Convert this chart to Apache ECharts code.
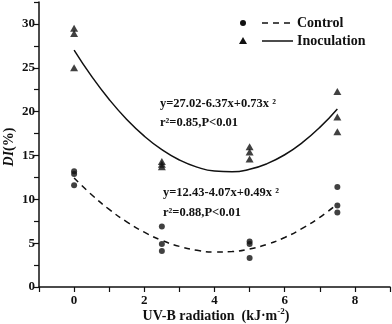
<!DOCTYPE html>
<html><head><meta charset="utf-8">
<script src="https://cdn.jsdelivr.net/npm/echarts@6/dist/echarts.min.js"></script>
<style>html,body{margin:0;padding:0;background:#fff}#c{width:392px;height:324px}</style>
</head><body><div id="c"></div>
<script>
// Observed points (x = UV-B radiation, y = DI %)
const controlX = [0, 0, 0, 2.5, 2.5, 2.5, 5, 5, 5, 7.5, 7.5, 7.5];
const controlY = [13.2, 12.9, 11.6, 6.9, 4.9, 4.1, 5.2, 4.9, 3.3, 11.4, 9.3, 8.5];
const inocX = [0, 0, 0, 2.5, 2.5, 2.5, 5, 5, 5, 7.5, 7.5, 7.5];
const inocY = [29.5, 28.9, 25.0, 14.3, 14.0, 13.7, 16.0, 15.4, 14.6, 22.3, 19.4, 17.7];
// Fitted curves
const fitX = [0, 0.5, 1, 1.5, 2, 2.5, 3, 3.5, 4, 4.5, 5, 5.5, 6, 6.5, 7, 7.5];
const controlFit = [12.43, 10.52, 8.85, 7.43, 6.25, 5.32, 4.63, 4.19, 3.99, 4.04, 4.33, 4.87, 5.65, 6.68, 7.95, 9.47];
const inocFit = [27.02, 24.02, 21.38, 19.11, 17.20, 15.66, 14.48, 13.67, 13.22, 13.14, 13.42, 14.07, 15.08, 16.46, 18.20, 20.31];
const xLabels = [0, 2, 4, 6, 8];
const yLabels = [0, 5, 10, 15, 20, 25, 30];
const legendNames = ['Control', 'Inoculation'];
const eqInoc = ['y=27.02-6.37x+0.73x ²', 'r²=0.85,P<0.01'];
const eqCtrl = ['y=12.43-4.07x+0.49x ²', 'r²=0.88,P<0.01'];
const xName = 'UV-B radiation  (kJ·m{s|-2})';
const yName = '{i|DI}(%)';

const FONT = '"Liberation Serif","Times New Roman",serif';
const INK = '#111';
const zip = (a, b) => a.map((v, i) => [v, b[i]]);

const chart = echarts.init(document.getElementById('c'), null, {renderer: 'canvas'});
const txt = (text, x, y, size) => ({
  type: 'text', x: x, y: y,
  style: {text: text, fill: INK, font: 'bold ' + size + 'px ' + FONT, textVerticalAlign: 'middle'}
});
chart.setOption({
  animation: false,
  backgroundColor: '#fff',
  grid: {left: 39, right: 2, top: 2, bottom: 37, containLabel: false, outerBoundsMode: 'none'},
  xAxis: {
    type: 'value', min: -1, max: 9, interval: 1,
    axisLine: {show: true, onZero: false, lineStyle: {color: INK, width: 1.5}},
    axisTick: {show: true, inside: false, length: 5, lineStyle: {color: INK, width: 1.2}},
    axisLabel: {color: INK, fontFamily: FONT, fontWeight: 'bold', fontSize: 13, margin: 7,
      formatter: v => xLabels.includes(v) ? String(v) : ''},
    splitLine: {show: false}
  },
  yAxis: {
    type: 'value', min: 0, max: 32.5, interval: 2.5,
    axisLine: {show: true, onZero: false, lineStyle: {color: INK, width: 1.5}},
    axisTick: {show: true, inside: false, length: 5, lineStyle: {color: INK, width: 1.2}},
    axisLabel: {color: INK, fontFamily: FONT, fontWeight: 'bold', fontSize: 13, margin: 4,
      formatter: v => yLabels.includes(v) ? String(v) : ''},
    splitLine: {show: false}
  },
  series: [
    {name: legendNames[0], type: 'scatter', data: zip(controlX, controlY), symbol: 'circle', symbolSize: 6,
      itemStyle: {color: INK}, z: 3},
    {name: legendNames[1], type: 'scatter', data: zip(inocX, inocY), symbol: 'triangle', symbolSize: [8, 7],
      itemStyle: {color: INK}, z: 3},
    {name: legendNames[0] + ' fit', type: 'line', data: zip(fitX, controlFit), smooth: true, showSymbol: false,
      lineStyle: {color: INK, width: 1.5, type: [6, 5]}},
    {name: legendNames[1] + ' fit', type: 'line', data: zip(fitX, inocFit), smooth: true, showSymbol: false,
      lineStyle: {color: INK, width: 1.5}}
  ],
  graphic: [
    {type: 'circle', shape: {cx: 243, cy: 23, r: 3}, style: {fill: INK}},
    {type: 'line', shape: {x1: 262, y1: 23, x2: 293, y2: 23}, style: {stroke: INK, lineWidth: 1.5, lineDash: [6, 5]}},
    txt(legendNames[0], 297, 23, 14),
    {type: 'polygon', shape: {points: [[243, 37], [247, 44], [239, 44]]}, style: {fill: INK}},
    {type: 'line', shape: {x1: 262, y1: 41, x2: 293, y2: 41}, style: {stroke: INK, lineWidth: 1.5}},
    txt(legendNames[1], 297, 41, 14),
    txt(eqInoc[0], 160, 104, 12.5),
    txt(eqInoc[1], 160, 123, 12.5),
    txt(eqCtrl[0], 163, 193, 12.5),
    txt(eqCtrl[1], 163, 213, 12.5),
    {type: 'text', x: 216, y: 316,
      style: {text: xName, fill: INK, font: 'bold 14px ' + FONT, textAlign: 'center', textVerticalAlign: 'middle',
        rich: {s: {fill: INK, font: 'bold 9px ' + FONT, padding: [0, 0, 8, 0]}}}},
    {type: 'text', x: 9, y: 147, rotation: Math.PI / 2,
      style: {text: yName, fill: INK, font: 'bold 14px ' + FONT, textAlign: 'center', textVerticalAlign: 'middle',
        rich: {i: {fill: INK, font: 'italic bold 14px ' + FONT}}}}
  ]
});
</script></body></html>
